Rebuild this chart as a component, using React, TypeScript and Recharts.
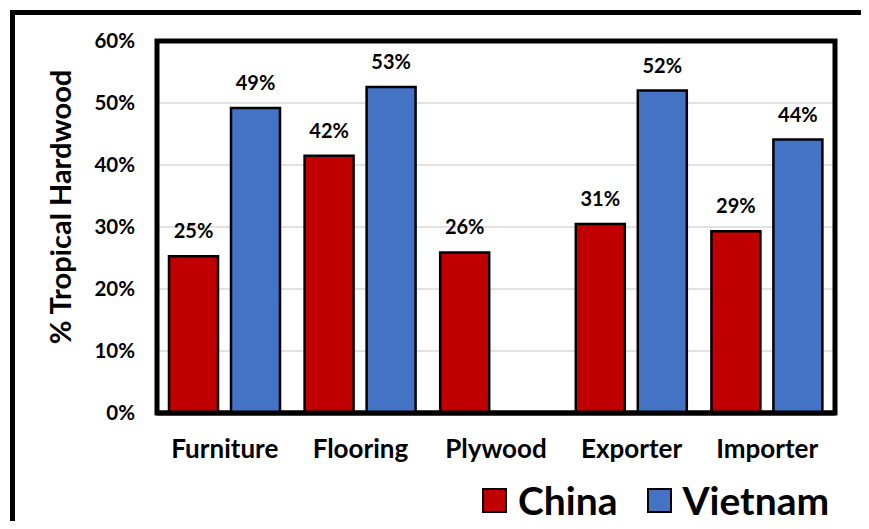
import React from 'react';
import { BarChart, Bar, XAxis, YAxis, CartesianGrid, LabelList, ReferenceArea, Label } from 'recharts';

const categories = ['Furniture', 'Flooring', 'Plywood', 'Exporter', 'Importer'];
const chinaValues = [25.3, 41.5, 25.9, 30.5, 29.3];
const vietnamValues: (number | null)[] = [49.2, 52.6, null, 52.0, 44.1];
const yTicks = [0, 10, 20, 30, 40, 50, 60];
const boundaryTicks = [0, 1, 2, 3, 4, 5];

const seriesNames = { china: 'China', vietnam: 'Vietnam' };
const colors = { china: '#C00000', vietnam: '#4472C4' };

const data = categories.map((c, i) => ({ name: c, china: chinaValues[i], vietnam: vietnamValues[i] }));

const FONT = 'Lato, "Open Sans", sans-serif';

const fmt = (v: any) => (v === null || v === undefined ? '' : `${Math.round(Number(v))}%`);

const YTitle = (props: any) => {
  const vb = props.viewBox || { x: 0, y: 41, width: 157, height: 372 };
  const cx = vb.x + 59;
  const cy = vb.y + vb.height / 2 - 20;
  return (
    <text
      x={cx}
      y={cy}
      transform={`rotate(-90 ${cx} ${cy})`}
      textAnchor="middle"
      dominantBaseline="central"
      fontFamily={FONT}
      fontWeight={700}
      fontSize={29}
      fill="#000"
    >
      % Tropical Hardwood
    </text>
  );
};

export default function App() {
  return (
    <div style={{ position: 'relative', width: 869, height: 529, margin: -8, overflow: 'hidden', background: '#fff' }}>
      <div
        style={{
          position: 'absolute',
          left: 10,
          top: 10,
          width: 856,
          height: 560,
          border: '5px solid #000',
          boxSizing: 'border-box',
        }}
      />
      <div style={{ position: 'absolute', left: 0, top: 0 }}>
        <BarChart
          width={869}
          height={529}
          data={data}
          margin={{ top: 41, right: 34, left: 0, bottom: 56 }}
          barCategoryGap={12}
          barGap={13}
        >
          <CartesianGrid vertical={false} stroke="#D9D9D9" strokeWidth={1.5} />
          <XAxis
            xAxisId="b"
            type="number"
            domain={[0, 5]}
            ticks={boundaryTicks}
            allowDataOverflow
            height={0}
            axisLine={false}
            tick={false}
            tickLine={{ stroke: '#000', strokeWidth: 1.5 }}
            tickSize={8}
          />
          <XAxis
            dataKey="name"
            height={60}
            axisLine={{ stroke: '#000', strokeWidth: 5 }}
            tickLine={false}
            tickSize={0}
            tickMargin={27}
            interval={0}
            tick={{ fontFamily: FONT, fontWeight: 700, fontSize: 26, fill: '#000' }}
          />
          <YAxis
            width={157}
            domain={[0, 60]}
            ticks={yTicks}
            axisLine={false}
            tickLine={false}
            tickSize={0}
            tickMargin={22}
            tickFormatter={(v: number) => `${v}%`}
            tick={{ fontFamily: FONT, fontWeight: 700, fontSize: 20.5, fill: '#000' }}
          >
            <Label content={<YTitle />} />
          </YAxis>
          <ReferenceArea
            x1="Furniture"
            x2="Importer"
            y1={0}
            y2={60}
            fill="none"
            fillOpacity={0}
            stroke="#000"
            strokeWidth={5}
            ifOverflow="visible"
          />
          <Bar dataKey="china" name={seriesNames.china} fill={colors.china} stroke="#000" strokeWidth={2.5} isAnimationActive={false}>
            <LabelList dataKey="china" position="top" offset={18} formatter={fmt} style={{ fontFamily: FONT, fontWeight: 700, fontSize: 20, fill: '#000' }} />
          </Bar>
          <Bar dataKey="vietnam" name={seriesNames.vietnam} fill={colors.vietnam} stroke="#000" strokeWidth={2.5} isAnimationActive={false}>
            <LabelList dataKey="vietnam" position="top" offset={18} formatter={fmt} style={{ fontFamily: FONT, fontWeight: 700, fontSize: 20, fill: '#000' }} />
          </Bar>
        </BarChart>
      </div>
      <div
        style={{
          position: 'absolute',
          left: 482,
          top: 480,
          height: 40,
          display: 'flex',
          alignItems: 'center',
          fontFamily: FONT,
          fontWeight: 700,
          fontSize: 39,
          color: '#000',
        }}
      >
        {(['china', 'vietnam'] as const).map((k, i) => (
          <div key={k} style={{ display: 'flex', alignItems: 'center', marginRight: i === 0 ? 29 : 0 }}>
            <div style={{ width: 25, height: 25, background: colors[k], border: '2.5px solid #000', boxSizing: 'border-box', marginRight: 11 }} />
            <span style={{ lineHeight: '40px' }}>{seriesNames[k]}</span>
          </div>
        ))}
      </div>
    </div>
  );
}
